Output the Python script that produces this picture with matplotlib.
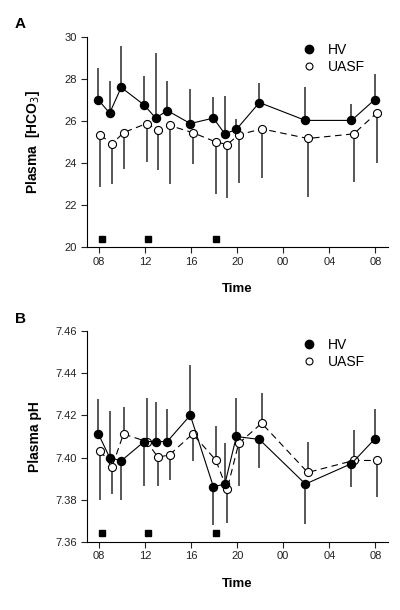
import matplotlib
matplotlib.use("Agg")
import matplotlib.pyplot as plt
from matplotlib.lines import Line2D
import numpy as np

plt.rcParams['font.family'] = ['Liberation Sans', 'DejaVu Sans']

# hours after 08:00
times = [0, 1, 2, 4, 5, 6, 8, 10, 11, 12, 14, 18, 22, 24]
tick_hours = [0, 4, 8, 12, 16, 20, 24]
tick_labels = ['08', '12', '16', '20', '00', '04', '08']
meal_times = [0.3, 4.25, 10.15]

# Panel A: plasma bicarbonate
hv_hco3 = [27.0, 26.37, 27.59, 26.75, 26.13, 26.49, 25.87, 26.13, 25.38, 25.59, 26.87, 26.02, 26.02, 27.0]
hv_hco3_sd = [1.52, 1.52, 1.98, 1.39, 3.09, 1.40, 1.64, 1.00, 1.78, 0.52, 0.91, 1.58, 0.79, 1.21]
hv_hco3_dir = [1] * 14
uasf_hco3 = [25.33, 24.89, 25.44, 25.87, 25.56, 25.78, 25.44, 25.0, 24.87, 25.33, 25.62, 25.16, 25.38, 26.38]
uasf_hco3_sd = [2.47, 1.89, 1.75, 1.82, 1.91, 2.78, 1.50, 2.46, 2.54, 2.28, 2.32, 2.78, 2.28, 2.40]
uasf_hco3_dir = [-1] * 14

# Panel B: plasma pH
hv_ph = [7.4114, 7.400, 7.3984, 7.4076, 7.4076, 7.4076, 7.4201, 7.3862, 7.3873, 7.410, 7.4086, 7.3874, 7.3971, 7.4087]
hv_ph_sd = [0.0164, 0.022, 0.0184, 0.0213, 0.0189, 0.0157, 0.0239, 0.0182, 0.0194, 0.0182, 0.0134, 0.0188, 0.0111, 0.0146]
hv_ph_dir = [1, 1, -1, -1, 1, 1, 1, -1, 1, 1, -1, -1, -1, 1]
uasf_ph = [7.4033, 7.3955, 7.4112, 7.4076, 7.4001, 7.4013, 7.4112, 7.3989, 7.3849, 7.4067, 7.4163, 7.3929, 7.3986, 7.3986]
uasf_ph_sd = [0.0233, 0.0126, 0.0126, 0.0207, 0.0136, 0.0118, 0.0128, 0.0161, 0.0159, 0.0202, 0.0142, 0.0145, 0.0147, 0.0173]
uasf_ph_dir = [-1, -1, 1, 1, -1, -1, -1, 1, -1, -1, 1, 1, 1, -1]

HV_SHIFT = -0.07
UASF_SHIFT = 0.13

fig = plt.figure(figsize=(4.0, 6.1), dpi=100)
axA = fig.add_axes([0.2175, 0.5951, 0.7525, 0.3447])
axB = fig.add_axes([0.2175, 0.1120, 0.7525, 0.3449])

def yerr(sd, d):
    sd = np.array(sd); d = np.array(d)
    low = np.where(d < 0, sd, 0.0)
    up = np.where(d > 0, sd, 0.0)
    return [low, up]

def draw(ax, hv, hv_sd, hv_dir, ua, ua_sd, ua_dir, ylim, yticks, ytl, ylabel, meal_y, panel):
    t = np.array(times, dtype=float)
    ax.errorbar(t + HV_SHIFT, hv, yerr=yerr(hv_sd, hv_dir), fmt='none', ecolor='#2a2a2a', elinewidth=1.1, capsize=0, zorder=1)
    ax.errorbar(t + UASF_SHIFT, ua, yerr=yerr(ua_sd, ua_dir), fmt='none', ecolor='#2a2a2a', elinewidth=1.1, capsize=0, zorder=1)
    ax.plot(t + UASF_SHIFT, ua, color='black', lw=0.8, ls=(0, (6, 4)), marker='o', ms=5.8,
            mfc='white', mec='black', mew=0.8, zorder=3)
    ax.plot(t + HV_SHIFT, hv, color='black', lw=0.8, ls='-', marker='o', ms=5.8,
            mfc='black', mec='black', zorder=4)
    ax.plot(meal_times, [meal_y] * len(meal_times), ls='none', marker='s', ms=5, color='black', zorder=5)
    ax.set_xlim(-1.04, 25.1)
    ax.set_ylim(*ylim)
    ax.set_xticks(tick_hours)
    ax.set_xticklabels(tick_labels, fontsize=8)
    ax.set_yticks(yticks)
    ax.set_yticklabels(ytl, fontsize=8)
    ax.spines['top'].set_visible(False)
    ax.spines['right'].set_visible(False)
    for s in ('left', 'bottom'):
        ax.spines[s].set_linewidth(0.8)
    ax.tick_params(axis='both', direction='out', length=4, width=0.8, pad=3, colors='#222222')
    ax.set_xlabel('Time', fontsize=9.5, fontweight='bold', labelpad=12)
    ax.set_ylabel(ylabel, fontsize=10, fontweight='bold')
    ax.yaxis.set_label_coords(-0.15, 0.5)
    ax.text(-0.24, 1.06, panel, transform=ax.transAxes, fontsize=11, fontweight='bold', va='center', ha='left')
    handles = [Line2D([], [], ls='none', marker='o', ms=6, mfc='black', mec='black'),
               Line2D([], [], ls='none', marker='o', ms=5, mfc='white', mec='black', mew=0.8)]
    ax.legend(handles, ['HV', 'UASF'], loc='upper left', bbox_to_anchor=(0.695, 0.995), frameon=False,
              fontsize=10, handlelength=1.1, handletextpad=0.8, labelspacing=0.2, borderaxespad=0)

draw(axA, hv_hco3, hv_hco3_sd, hv_hco3_dir, uasf_hco3, uasf_hco3_sd, uasf_hco3_dir,
     (20, 30), [20, 22, 24, 26, 28, 30], ['20', '22', '24', '26', '28', '30'],
     'Plasma  [HCO$_3$]', 20.4, 'A')
draw(axB, hv_ph, hv_ph_sd, hv_ph_dir, uasf_ph, uasf_ph_sd, uasf_ph_dir,
     (7.36, 7.46), [7.36, 7.38, 7.40, 7.42, 7.44, 7.46], ['7.36', '7.38', '7.40', '7.42', '7.44', '7.46'],
     'Plasma pH', 7.364, 'B')

fig.savefig('out.png', dpi=100)
